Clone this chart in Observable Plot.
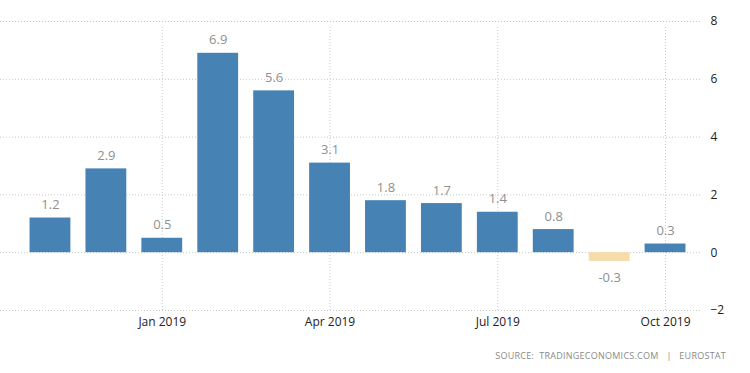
<!DOCTYPE html>
<html>
<head>
<meta charset="utf-8">
<script src="https://cdn.jsdelivr.net/npm/d3@7"></script>
<script src="https://cdn.jsdelivr.net/npm/@observablehq/plot@0.6"></script>
<style>
  html, body { margin: 0; padding: 0; background: #fff; }
  #chart { width: 750px; height: 340px; }
  #source { width: 750px; height: 33px; position: relative; font-family: "Open Sans", sans-serif; }
  #source span { position: absolute; right: 24px; top: 9px; font-size: 9px; color: #8a8a8a; letter-spacing: 0.25px; white-space: pre; }
</style>
</head>
<body>
<div id="chart"></div>
<div id="source"><span>SOURCE:  TRADINGECONOMICS.COM   |   EUROSTAT</span></div>
<script>
const months = ["Nov 2018","Dec 2018","Jan 2019","Feb 2019","Mar 2019","Apr 2019","May 2019","Jun 2019","Jul 2019","Aug 2019","Sep 2019","Oct 2019"];
const values = [1.2, 2.9, 0.5, 6.9, 5.6, 3.1, 1.8, 1.7, 1.4, 0.8, -0.3, 0.3];
const xTicks = ["Jan 2019","Apr 2019","Jul 2019","Oct 2019"];
const yTicks = [-2, 0, 2, 4, 6, 8];

const data = months.map((m, i) => ({month: m, value: values[i]}));

const chart = Plot.plot({
  width: 750,
  height: 340,
  marginLeft: 0,
  marginRight: 50,
  marginTop: 21,
  marginBottom: 30,
  style: {fontFamily: "'Open Sans', sans-serif", fontSize: "12px", color: "#222", background: "#fff"},
  x: {type: "band", domain: months, round: false, paddingInner: 0.27, paddingOuter: 0.135, insetLeft: 22, insetRight: 7, label: null},
  y: {domain: [-2, 8], label: null},
  marks: [
    Plot.ruleY(yTicks, {stroke: "#c8c8c8", strokeDasharray: "1,2"}),
    Plot.ruleX(xTicks, {x: d => d, y1: -2, y2: 8, stroke: "#c8c8c8", strokeDasharray: "1,2", insetBottom: -4}),
    Plot.barY(data, {x: "month", y: "value", fill: d => d.value < 0 ? "#f7dba9" : "#4682b4"}),
    Plot.text(data.filter(d => d.value >= 0), {x: "month", y: "value", text: d => d.value.toFixed(1), dy: -13, fill: "#909090", fontSize: 13}),
    Plot.text(data.filter(d => d.value < 0), {x: "month", y: "value", text: d => d.value.toFixed(1), dy: 16, fill: "#909090", fontSize: 13}),
    Plot.axisX({ticks: xTicks, tickSize: 0, tickPadding: 7, fontSize: 12, fill: "#222"}),
    Plot.axisY({anchor: "right", ticks: yTicks, tickSize: 0, tickPadding: 10, textAnchor: "start", fontSize: 12, fill: "#222"})
  ]
});
document.getElementById("chart").appendChild(chart);
</script>
</body>
</html>
